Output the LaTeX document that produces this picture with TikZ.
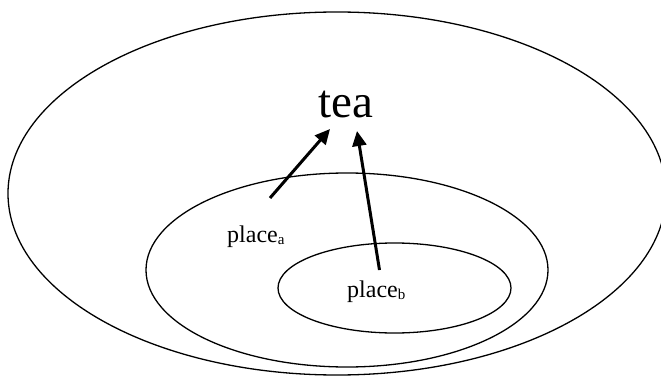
\documentclass[tikz,border=0pt]{standalone}
\usepackage{fontspec}
\setmainfont{Liberation Serif}
\usetikzlibrary{arrows.meta}
\newcommand{\subx}[1]{\raisebox{-2.5pt}{\fontsize{15}{15}\selectfont #1}}
\begin{document}
\begin{tikzpicture}[x=1pt,y=1pt,
  ring/.style={draw=black, line width=1.3pt},
  lbl/.style={inner sep=0pt, anchor=base west, font=\fontsize{24}{26}\selectfont},
  arr/.style={line width=3pt, -{Triangle[length=15pt,width=14pt]}}]
\useasboundingbox (0,0) rectangle (661,378);
\draw[ring] (337,184.5) ellipse [x radius=329, y radius=181.5];
\draw[ring] (347,108) ellipse [x radius=201, y radius=97];
\draw[ring] (394.5,90) ellipse [x radius=116.5, y radius=45];
\node (tea) [inner sep=0pt, anchor=base, font=\fontsize{47}{50}\selectfont] at (345.5,260) {tea};
\node (pa) [lbl] at (227,136) {place\subx{a}};
\node (pb) [lbl] at (347,81) {place\subx{b}};
\coordinate (a1s) at (270,180);
\coordinate (a1e) at (330,249);
\coordinate (a2s) at (379.5,108);
\coordinate (a2e) at (357,247);
\draw[arr] (a1s) -- (a1e);
\draw[arr] (a2s) -- (a2e);
\end{tikzpicture}
\end{document}
